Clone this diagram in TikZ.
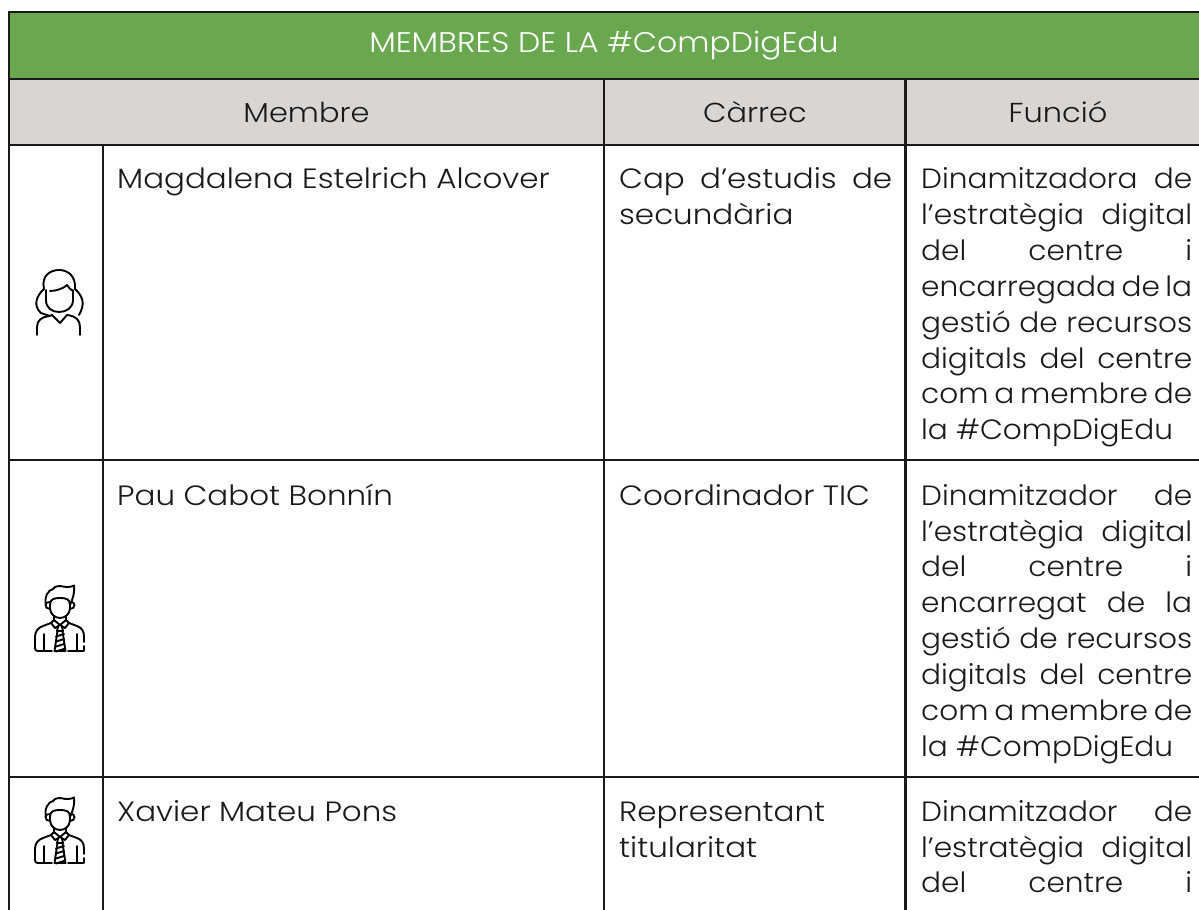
\documentclass[tikz,border=0pt]{standalone}
\usepackage{fontspec}
\setmainfont{Poppins Light}[FakeStretch=1.11]
\newfontfamily\fnarrow{Poppins Light}[FakeStretch=1.06]
\definecolor{hdgreen}{HTML}{6AA84F}
\definecolor{hdgrey}{HTML}{D9D5D2}
\definecolor{ink}{HTML}{1A1A1A}
\newlength{\fw}\setlength{\fw}{271bp}
\newlength{\cw}\setlength{\cw}{273bp}
\newcommand{\jf}[1]{\leavevmode\hbox to\fw{\spaceskip=4bp plus 1fil\relax #1}}
\newcommand{\jc}[1]{\leavevmode\hbox to\cw{\spaceskip=4bp plus 1fil\relax #1}}
\newcommand{\topst}{\rule{0pt}{25bp}}
\tikzset{
  rule/.style={line width=2.8bp,draw=ink},
  icon/.style={line width=1.9bp,draw=black,line cap=round,line join=round},
  title/.style={font=\fontsize{28.5}{34}\selectfont,text=white,inner sep=0pt},
  head/.style={font=\fontsize{27.5}{34}\selectfont,text=ink,inner sep=0pt},
  cell/.style={font=\fontsize{28}{36}\selectfont,text=ink,inner sep=0pt,anchor=north west,align=left},
  fcell/.style={cell,font=\fnarrow\fontsize{28}{36}\selectfont},
  manicon/.pic={
    \begin{scope}[x=1bp,y=1bp]
    \draw[icon] (11,20) .. controls (9,12) and (13,5) .. (18,4) .. controls (20,1) and (24,0.5) .. (28,1.5) .. controls (32,2.5) and (36,2) .. (39,0.5) .. controls (40,6) and (38,14) .. (35,20);
    \draw[icon] (15,20) .. controls (15,14) and (19,13) .. (25,13) .. controls (31,13) and (35,14) .. (35,20) -- (35,23) .. controls (35,29) and (30,33) .. (25,33) .. controls (20,33) and (15,29) .. (15,23) -- cycle;
    \draw[icon] (15,17) .. controls (9,16) and (9,24) .. (15,24);
    \draw[icon] (35,17) .. controls (41,16) and (41,24) .. (35,24);
    \draw[icon] (19,31) -- (19,36);
    \draw[icon] (31,31) -- (31,36);
    \draw[icon] (19,35) -- (25,40) -- (31,35);
    \draw[icon] (19,35) -- (16,38) -- (20,43) -- (25,40) -- (30,43) -- (34,38) -- (31,35);
    \draw[icon] (16,38) -- (8,41) .. controls (3,43) and (0,46) .. (0,52) -- (0,63) .. controls (0,65) and (1,66) .. (3,66) -- (17,66);
    \draw[icon] (34,38) -- (42,41) .. controls (47,43) and (49,46) .. (49,52) -- (49,57);
    \draw[icon] (49,61) -- (49,66) -- (33,66);
    \draw[icon] (9,49) -- (9,65);
    \draw[icon] (42,49) -- (42,65);
    \draw[icon] (23,42) -- (22,46) -- (28,46) -- (27,42);
    \draw[icon] (22.5,46) -- (19.5,66) -- (30.5,66) -- (27.5,46);
    \foreach \yy in {49,54,59,64}{\draw[icon] (21,\yy+2.5) -- (29,\yy);}
    \end{scope}
  },
}
\begin{document}
\begin{tikzpicture}[x=1bp,y=-1bp]
\useasboundingbox (0,0) rectangle (1199,910);
\fill[white] (0,0) rectangle (1199,910);
\fill[hdgreen] (9,12) rectangle (1199,79);
\fill[hdgrey] (9,79) rectangle (1199,145);
\draw[rule] (7.6,12)--(1199,12);
\draw[rule] (9,79)--(1199,79);
\draw[rule] (9,145)--(1199,145);
\draw[rule] (9,460)--(1199,460);
\draw[rule] (9,777)--(1199,777);
\draw[rule] (9,10.6)--(9,910);
\draw[rule] (103,145)--(103,910);
\draw[rule] (604,79)--(604,910);
\draw[rule] (905.5,79)--(905.5,910);
\node[title] (ttl) at (604,46) {MEMBRES DE LA \#CompDigEdu};
\node[head] (h1) at (306.5,112) {Membre};
\node[head] (h2) at (755,112) {Càrrec};
\node[head] (h3) at (1058,112) {Funció};
\node[cell] (m1) at (117,163.5) {\topst Magdalena Estelrich Alcover};
\node[cell] (c1) at (619,163.5) {\topst\jc{Cap d’estudis de}\\secundària};
\node[fcell] (f1) at (921,163.5) {\topst\jf{Dinamitzadora de}\\\jf{l’estratègia digital}\\\jf{del centre i}\\\jf{encarregada de la}\\\jf{gestió de recursos}\\\jf{digitals del centre}\\\jf{com a membre de}\\la \#CompDigEdu};
\node[cell] (m2) at (117,480) {\topst Pau Cabot Bonnín};
\node[cell] (c2) at (619,480) {\topst Coordinador TIC};
\node[fcell] (f2) at (921,480) {\topst\jf{Dinamitzador de}\\\jf{l’estratègia digital}\\\jf{del centre i}\\\jf{encarregat de la}\\\jf{gestió de recursos}\\\jf{digitals del centre}\\\jf{com a membre de}\\la \#CompDigEdu};
\node[cell] (m3) at (117,796) {\topst Xavier Mateu Pons};
\node[cell] (c3) at (619,796) {\topst Representant\\titularitat};
\node[fcell] (f3) at (921,796) {\topst\jf{Dinamitzador de}\\\jf{l’estratègia digital}\\\jf{del centre i}};
\draw[icon] (37,335) -- (37,327) .. controls (37,320) and (42,317) .. (49,316) -- (52,315) -- (60,323) -- (67,315) .. controls (76,316) and (80,320) .. (80,327) -- (80,335);
\draw[icon] (46,290) -- (46,300) .. controls (46,308) and (52,312) .. (59,312) .. controls (66,312) and (73,308) .. (73,300) -- (73,290);
\draw[icon] (50,291) .. controls (57,291) and (64,288) .. (67,285) .. controls (69,288) and (71,290) .. (73,291);
\draw[icon] (44,289) .. controls (36,296) and (33,306) .. (41,313) -- (50,316);
\draw[icon] (44,289) .. controls (41,276) and (50,270) .. (59,270) .. controls (68,270) and (76,276) .. (75,289) .. controls (85,298) and (84,306) .. (79,315);
\pic[yscale=-1] at (35,585) {manicon};
\pic[yscale=-1] at (35,797) {manicon};
\end{tikzpicture}
\end{document}
